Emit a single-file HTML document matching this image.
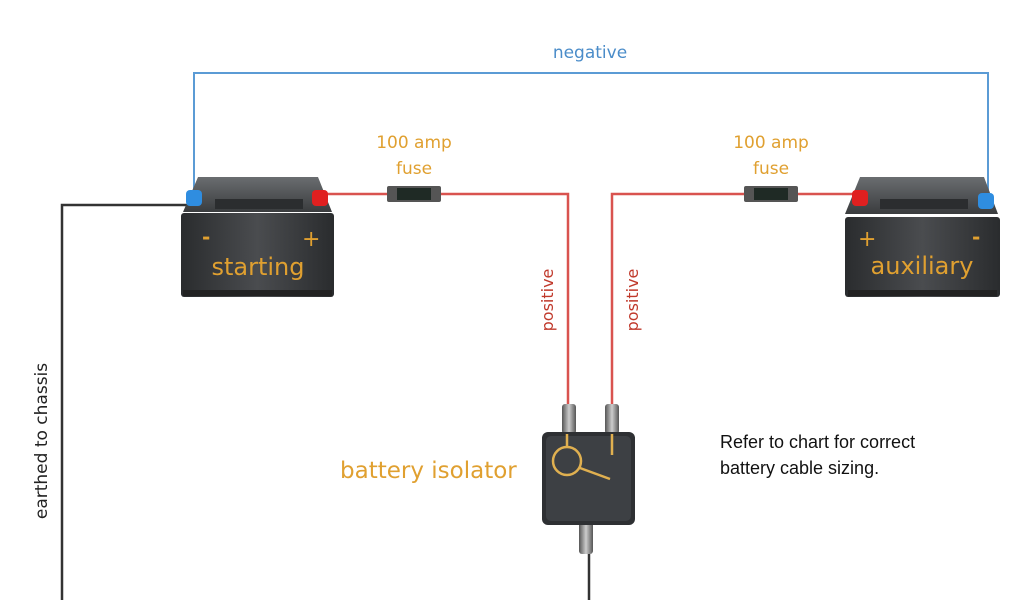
<!DOCTYPE html>
<html><head><meta charset="utf-8"><style>
html,body{margin:0;padding:0;background:#fff;width:1024px;height:600px;overflow:hidden}
svg{display:block}
.o{font-family:"DejaVu Sans","Liberation Sans",sans-serif;fill:#e0a030}
.lbl{font-family:"DejaVu Sans","Liberation Sans",sans-serif}
</style></head><body>
<svg width="1024" height="600" viewBox="0 0 1024 600" xmlns="http://www.w3.org/2000/svg">
<defs>
<linearGradient id="bt" x1="0" y1="0" x2="0" y2="1"><stop offset="0" stop-color="#6a6d70"/><stop offset="1" stop-color="#3a3c3e"/></linearGradient>
<linearGradient id="bb" x1="0" y1="0" x2="1" y2="0"><stop offset="0" stop-color="#2a2c2e"/><stop offset="0.5" stop-color="#4a4c4f"/><stop offset="1" stop-color="#2a2c2e"/></linearGradient>
<linearGradient id="nut" x1="0" y1="0" x2="1" y2="0"><stop offset="0" stop-color="#555"/><stop offset="0.5" stop-color="#ccc"/><stop offset="1" stop-color="#555"/></linearGradient>
</defs>
<!-- negative wire -->
<polyline points="194,200 194,73 988,73 988,200" fill="none" stroke="#5b9bd5" stroke-width="2"/>
<text x="590" y="58" text-anchor="middle" class="lbl" font-size="17" fill="#4a8cc9">negative</text>
<!-- earth wire -->
<polyline points="190,205 62,205 62,600" fill="none" stroke="#333" stroke-width="2.5"/>
<text transform="translate(47,441) rotate(-90)" text-anchor="middle" class="lbl" font-size="17" fill="#222">earthed to chassis</text>
<!-- red wires -->
<polyline points="320,194 568,194 568,410" fill="none" stroke="#d9534f" stroke-width="2.5"/>
<polyline points="855,194 612,194 612,410" fill="none" stroke="#d9534f" stroke-width="2.5"/>
<text transform="translate(553,300) rotate(-90)" text-anchor="middle" class="lbl" font-size="16" fill="#c0392b">positive</text>
<text transform="translate(638,300) rotate(-90)" text-anchor="middle" class="lbl" font-size="16" fill="#c0392b">positive</text>
<!-- fuses -->
<g><rect x="387" y="186" width="54" height="16" rx="2" fill="#555"/><rect x="397" y="188" width="34" height="12" fill="#1f2a25"/></g>
<g><rect x="744" y="186" width="54" height="16" rx="2" fill="#555"/><rect x="754" y="188" width="34" height="12" fill="#1f2a25"/></g>
<text x="414" y="148" text-anchor="middle" class="o" font-size="17">100 amp</text>
<text x="414" y="174" text-anchor="middle" class="o" font-size="17">fuse</text>
<text x="771" y="148" text-anchor="middle" class="o" font-size="17">100 amp</text>
<text x="771" y="174" text-anchor="middle" class="o" font-size="17">fuse</text>
<!-- starting battery -->
<g>
<path d="M198,177 L318,177 L332,212 L183,212 Z" fill="url(#bt)"/>
<rect x="215" y="199" width="88" height="10" fill="#2b2d2f"/>
<rect x="181" y="213" width="153" height="84" rx="3" fill="url(#bb)"/>
<rect x="183" y="290" width="149" height="6" fill="#222"/>
<rect x="186" y="190" width="16" height="16" rx="4" fill="#2f8de0"/>
<rect x="312" y="190" width="16" height="16" rx="4" fill="#e02020"/>
<text x="202" y="244" class="o" font-size="20" font-weight="bold">-</text>
<text x="302" y="246" class="o" font-size="22">+</text>
<text x="258" y="275" text-anchor="middle" class="o" font-size="24">starting</text>
</g>
<!-- auxiliary battery -->
<g>
<path d="M860,177 L984,177 L998,214 L845,214 Z" fill="url(#bt)"/>
<rect x="880" y="199" width="88" height="10" fill="#2b2d2f"/>
<rect x="845" y="217" width="155" height="80" rx="3" fill="url(#bb)"/>
<rect x="848" y="290" width="149" height="6" fill="#222"/>
<rect x="852" y="190" width="16" height="16" rx="4" fill="#e02020"/>
<rect x="978" y="193" width="16" height="16" rx="4" fill="#2f8de0"/>
<text x="858" y="246" class="o" font-size="22">+</text>
<text x="972" y="244" class="o" font-size="20" font-weight="bold">-</text>
<text x="922" y="274" text-anchor="middle" class="o" font-size="24">auxiliary</text>
</g>
<!-- isolator -->
<rect x="562" y="404" width="14" height="30" rx="3" fill="url(#nut)"/>
<rect x="605" y="404" width="14" height="30" rx="3" fill="url(#nut)"/>
<rect x="579" y="522" width="14" height="32" rx="3" fill="url(#nut)"/>
<line x1="589" y1="554" x2="589" y2="600" stroke="#333" stroke-width="2.5"/>
<rect x="542" y="432" width="93" height="93" rx="6" fill="#2e3033"/>
<rect x="546" y="436" width="85" height="85" rx="5" fill="#3d4044"/>
<circle cx="567" cy="461" r="14" fill="none" stroke="#e0b050" stroke-width="2.5"/>
<line x1="567" y1="447" x2="567" y2="434" stroke="#e0b050" stroke-width="2.5"/>
<line x1="580" y1="468" x2="610" y2="479" stroke="#e0b050" stroke-width="2.5"/>
<line x1="612" y1="434" x2="612" y2="455" stroke="#e0b050" stroke-width="2.5"/>
<text x="340" y="478" class="o" font-size="23">battery isolator</text>
<text x="720" y="448" class="lbl" font-size="18" fill="#111" style="font-family:'Liberation Sans',sans-serif">Refer to chart for correct</text>
<text x="720" y="474" class="lbl" font-size="18" fill="#111" style="font-family:'Liberation Sans',sans-serif">battery cable sizing.</text>
</svg>
</body></html>
